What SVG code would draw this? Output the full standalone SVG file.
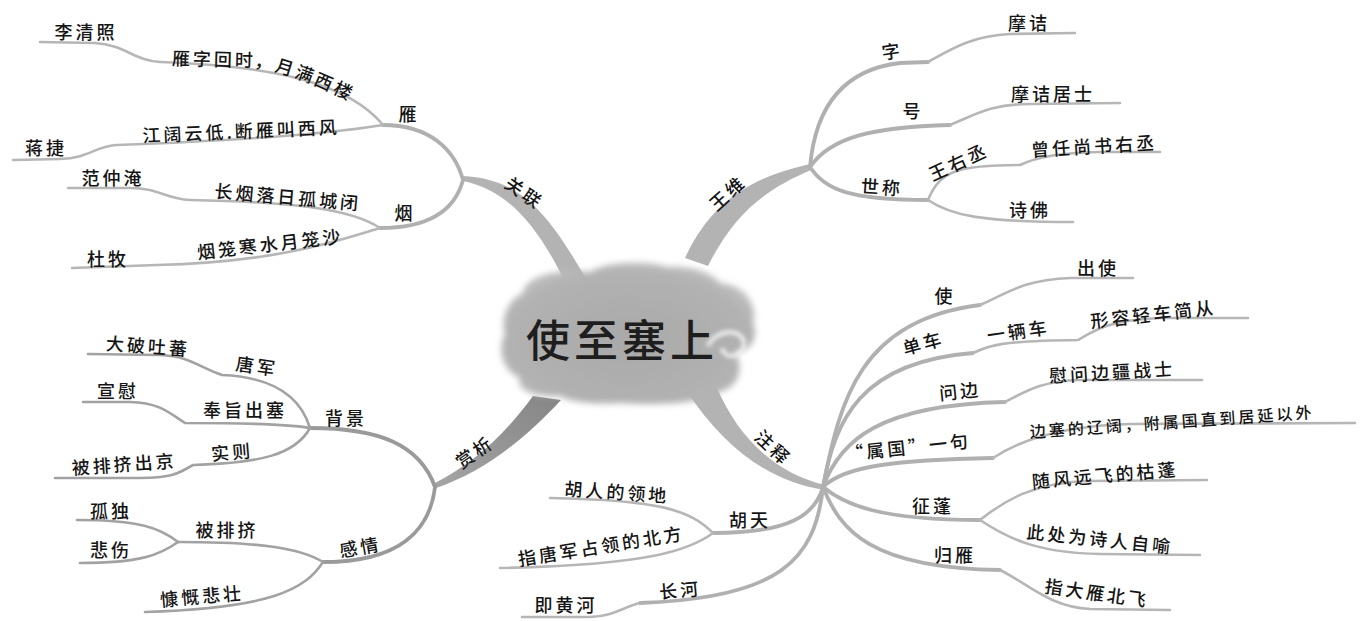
<svg xmlns="http://www.w3.org/2000/svg" width="1362" height="621" viewBox="0 0 1362 621">
<style>
.t{font-family:"Noto Sans CJK SC","Noto Sans CJK JP",sans-serif;font-size:18px;font-weight:500;fill:#151515;letter-spacing:3px;text-anchor:middle;dominant-baseline:central}
.s{font-size:16px;letter-spacing:3px}
.l2{fill:none;stroke:#b0b0b0;stroke-width:3.8;stroke-linecap:round;stroke-linejoin:round}
.l3{fill:none;stroke:#b6b6b6;stroke-width:2.6;stroke-linecap:round;stroke-linejoin:round}
.d2{stroke:#9a9a9a}
.d3{stroke:#a2a2a2}
.trunk{fill:#b3b3b3}
</style>
<defs>
<filter id="soft" x="-20%" y="-20%" width="140%" height="140%"><feGaussianBlur stdDeviation="3"/></filter>
<filter id="soft2" x="-50%" y="-50%" width="200%" height="200%"><feGaussianBlur stdDeviation="2"/></filter>
<linearGradient id="gx" x1="0" y1="1" x2="1" y2="0"><stop offset="0" stop-color="#a5a5a5"/><stop offset="1" stop-color="#858585"/></linearGradient>
<radialGradient id="cg" cx="0.5" cy="0.55" r="0.6"><stop offset="0" stop-color="#a9a9a9"/><stop offset="0.8" stop-color="#b2b2b2"/><stop offset="1" stop-color="#c4c4c4"/></radialGradient>
<path id="p1" d="M172,57 L255,59 Q308,68 375,106"/>
</defs>
<rect width="1362" height="621" fill="#fff"/>

<g id="connectors">
  <path class="trunk" d="M463,176 C520,179 548,212 586,279 L566,284 C538,226 508,190 463,181 Z"/>
  <path class="trunk" d="M810,164 C752,177 712,200 685,258 L708,266 C734,214 764,190 811,170 Z"/>
  <path fill="url(#gx)" d="M435,483 C472,464 503,437 533,396 L561,400 C522,442 482,472 436,488 Z"/>
  <path class="trunk" d="M825,485 C778,474 740,441 717,388 L686,390 C724,448 770,482 825,490 Z"/>

  <path class="l2" d="M463,180 C455,150 430,125 383,125"/>
  <path class="l3" d="M383,125 C350,85 280,66 160,62 C135,61 125,45 95,43 L40,42"/>
  <path class="l3" d="M383,125 C365,128 300,138 117,145 C95,146 90,158 60,159 L13,160"/>
  <path class="l2" d="M463,180 C455,210 430,228 380,228"/>
  <path class="l3" d="M380,228 C350,208 290,202 190,200 C165,199 160,188 130,188 L68,188"/>
  <path class="l3" d="M380,228 C340,240 280,262 157,265 L72,268"/>

  <path class="l2" d="M810,167 C815,110 840,70 900,63 L928,62"/>
  <path class="l3" d="M928,62 C950,50 970,36 1010,34 L1075,33"/>
  <path class="l2" d="M810,167 C830,138 870,127 950,125"/>
  <path class="l3" d="M950,125 C975,115 990,104 1030,104 L1120,103"/>
  <path class="l2" d="M810,167 C825,190 850,200 928,200"/>
  <path class="l3" d="M928,200 C940,170 960,165 1020,165 C1040,156 1060,153 1100,152 L1160,152"/>
  <path class="l3" d="M928,200 C950,215 980,222 1073,222"/>

  <path class="l2" d="M823,487 C840,400 860,320 980,305"/>
  <path class="l3" d="M980,305 C1005,295 1020,280 1070,278 L1133,278"/>
  <path class="l2" d="M823,487 C835,420 860,362 973,353"/>
  <path class="l3" d="M973,353 C990,345 1000,341 1078,340 C1095,330 1110,320 1160,318 L1248,318"/>
  <path class="l2" d="M823,487 C840,440 880,405 1005,402"/>
  <path class="l3" d="M1005,402 C1025,392 1040,381 1080,380 L1202,380"/>
  <path class="l2" d="M823,487 C845,465 900,460 993,458"/>
  <path class="l3" d="M993,458 C1020,440 1060,426 1130,424 L1355,423"/>
  <path class="l2" d="M823,487 C845,505 880,520 980,520"/>
  <path class="l3" d="M980,520 C1005,500 1035,482 1090,481 L1207,480"/>
  <path class="l3" d="M980,520 C1010,540 1040,553 1100,554 L1200,555"/>
  <path class="l2" d="M823,487 C840,530 870,568 1000,570"/>
  <path class="l3" d="M1000,570 C1030,585 1050,607 1090,609 L1170,610"/>
  <path class="l2" d="M823,487 C815,515 790,533 713,533"/>
  <path class="l3" d="M713,533 C690,510 660,500 550,498"/>
  <path class="l3" d="M713,533 C690,550 650,565 500,568"/>
  <path class="l2" d="M823,487 C815,560 780,598 640,603"/>
  <path class="l3" d="M640,603 C625,606 615,616 590,617 L522,617"/>

  <path class="l2 d2" d="M435,487 C420,445 380,428 310,428"/>
  <path class="l3 d3" d="M310,428 C300,395 270,377 222,375 C200,368 190,356 160,355 L88,354"/>
  <path class="l3 d3" d="M310,428 C290,424 240,423 185,423 C168,412 160,403 130,402 L83,402"/>
  <path class="l3 d3" d="M310,428 C295,455 260,463 193,465 C180,472 175,478 140,478 L55,478"/>
  <path class="l2 d2" d="M435,487 C430,530 400,562 323,562"/>
  <path class="l3 d3" d="M323,562 C300,548 260,542 178,542"/>
  <path class="l3 d3" d="M178,542 C160,528 140,520 77,520"/>
  <path class="l3 d3" d="M178,542 C160,555 140,563 80,563"/>
  <path class="l3 d3" d="M323,562 C305,590 270,608 145,612"/>
</g>

<g id="center">
  <path filter="url(#soft)" fill="url(#cg)" d="M523,293 C525,275 560,268 590,272 C605,262 645,260 667,267 C690,265 712,272 720,283 C745,285 758,305 753,323 C760,340 748,352 735,352 C745,370 738,390 715,393 C700,405 650,405 620,403 C595,405 570,402 560,396 C535,398 515,390 520,378 C500,370 498,345 505,335 C500,320 507,300 523,293 Z"/>
  <path filter="url(#soft2)" fill="none" stroke="#f2f2f2" stroke-width="4" d="M708,346 C716,328 744,328 744,344 C744,358 724,360 722,348"/>
  <text class="t" x="622" y="338" style="font-size:44px;letter-spacing:4px;fill:#1e1e1e">使至塞上</text>
</g>

<g id="guanlian">
  <text class="t" transform="translate(525,192) rotate(35)">关联</text>
  <text class="t" x="409" y="113">雁</text>
  <text class="t" style="text-anchor:start"><textPath href="#p1">雁字回时，月满西楼</textPath></text>
  <text class="t" x="86" y="31">李清照</text>
  <text class="t" transform="translate(241,130) rotate(-2.5)">江阔云低.断雁叫西风</text>
  <text class="t" x="46" y="147">蒋捷</text>
  <text class="t" x="405" y="212">烟</text>
  <text class="t" transform="translate(288,196) rotate(5)">长烟落日孤城闭</text>
  <text class="t" x="113" y="177">范仲淹</text>
  <text class="t" transform="translate(270,243) rotate(-6.5)">烟笼寒水月笼沙</text>
  <text class="t" x="108" y="258">杜牧</text>
</g>

<g id="wangwei">
  <text class="t" transform="translate(727,192) rotate(-42)">王维</text>
  <text class="t" transform="translate(892,50) rotate(-8)">字</text>
  <text class="t" x="1029" y="22">摩诘</text>
  <text class="t" x="913" y="110">号</text>
  <text class="t" x="1053" y="93">摩诘居士</text>
  <text class="t" transform="translate(882,186) rotate(4)">世称</text>
  <text class="t" transform="translate(958,161) rotate(-25)">王右丞</text>
  <text class="t" transform="translate(1094,145) rotate(-3.5)">曾任尚书右丞</text>
  <text class="t" x="1030" y="209">诗佛</text>
</g>

<g id="zhushi">
  <text class="t" transform="translate(774,447) rotate(43)">注释</text>
  <text class="t" x="945" y="295">使</text>
  <text class="t" x="1098" y="267">出使</text>
  <text class="t" transform="translate(923,342) rotate(-15)">单车</text>
  <text class="t" transform="translate(1018,330) rotate(-8)">一辆车</text>
  <text class="t" transform="translate(1153,313) rotate(-6.5)">形容轻车简从</text>
  <text class="t" transform="translate(960,390) rotate(-6)">问边</text>
  <text class="t" transform="translate(1112,371) rotate(-3.5)">慰问边疆战士</text>
  <text class="t" transform="translate(908,446) rotate(-6)">“属国”一句</text>
  <text class="t s" transform="translate(1172,421) rotate(-4)">边塞的辽阔，附属国直到居延以外</text>
  <text class="t" x="933" y="505">征蓬</text>
  <text class="t" transform="translate(1105,474) rotate(-5)">随风远飞的枯蓬</text>
  <text class="t" transform="translate(1100,538) rotate(6)">此处为诗人自喻</text>
  <text class="t" x="955" y="554">归雁</text>
  <text class="t" transform="translate(1097,592) rotate(8)">指大雁北飞</text>
  <text class="t" x="750" y="519">胡天</text>
  <text class="t" transform="translate(617,491) rotate(4)">胡人的领地</text>
  <text class="t" transform="translate(601,545) rotate(-9)">指唐军占领的北方</text>
  <text class="t" transform="translate(680,589) rotate(-5)">长河</text>
  <text class="t" x="566" y="604">即黄河</text>
</g>

<g id="shangxi">
  <text class="t" transform="translate(474,451) rotate(-35)">赏析</text>
  <text class="t" x="346" y="417">背景</text>
  <text class="t" transform="translate(257,365) rotate(8)">唐军</text>
  <text class="t" transform="translate(148,345) rotate(4)">大破吐蕃</text>
  <text class="t" x="245" y="409">奉旨出塞</text>
  <text class="t" x="118" y="390">宣慰</text>
  <text class="t" transform="translate(232,451) rotate(-5)">实则</text>
  <text class="t" transform="translate(124,463) rotate(-4)">被排挤出京</text>
  <text class="t" transform="translate(360,546) rotate(-10)">感情</text>
  <text class="t" x="227" y="529">被排挤</text>
  <text class="t" x="111" y="510">孤独</text>
  <text class="t" x="111" y="549">悲伤</text>
  <text class="t" transform="translate(202,595) rotate(-5)">慷慨悲壮</text>
</g>
</svg>
